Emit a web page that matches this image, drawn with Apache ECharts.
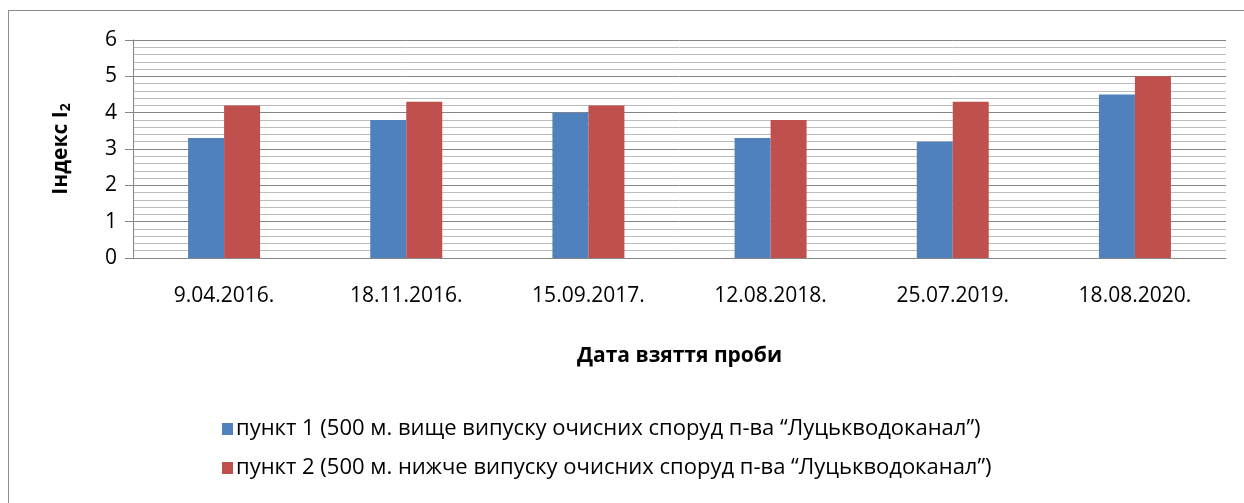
<!DOCTYPE html>
<html>
<head>
<meta charset="utf-8">
<script src="https://cdn.jsdelivr.net/npm/echarts@6/dist/echarts.min.js"></script>
<style>
  html, body { margin: 0; padding: 0; background: #fff; }
  #chart { width: 1244px; height: 503px; position: relative; }
  .frame { position: absolute; left: 8px; top: 10px; width: 1300px; height: 600px; border: 1px solid #8c8c8c; box-sizing: border-box; }
</style>
</head>
<body>
<div class="frame"></div>
<div id="chart"></div>
<script>
// дати відбору проб
const dates = ['9.04.2016.', '18.11.2016.', '15.09.2017.', '12.08.2018.', '25.07.2019.', '18.08.2020.']
const point1 = [3.3, 3.8, 4.0, 3.3, 3.2, 4.5]
const point2 = [4.2, 4.3, 4.2, 3.8, 4.3, 5.0]
const seriesNames = [
  'пункт 1 (500 м. вище випуску очисних споруд п-ва “Луцькводоканал”)',
  'пункт 2 (500 м. нижче випуску очисних споруд п-ва “Луцькводоканал”)'
]

const font = 'Open Sans'
const chart = echarts.init(document.getElementById('chart'))
chart.setOption({
  animation: false,
  textStyle: { fontFamily: font },
  grid: { left: 133, right: 18, top: 40, bottom: 245 },
  legend: {
    orient: 'vertical',
    left: 217,
    top: 413,
    itemGap: 17,
    itemWidth: 11,
    itemHeight: 12,
    icon: 'rect',
    textStyle: { fontFamily: font, fontSize: 22, color: '#000', padding: [0, 0, 0, -2] },
    data: seriesNames
  },
  xAxis: {
    type: 'category',
    data: dates,
    name: 'Дата взяття проби',
    nameLocation: 'middle',
    nameGap: 88,
    nameTextStyle: { fontFamily: font, fontSize: 21, fontWeight: 'bold', color: '#000' },
    axisLine: { lineStyle: { color: '#868686' } },
    axisTick: { show: false },
    axisLabel: { color: '#000', fontSize: 21, margin: 28 }
  },
  yAxis: {
    type: 'value',
    min: 0,
    max: 6,
    interval: 1,
    name: '{b|Індекс I}{s|2}',
    nameLocation: 'middle',
    nameRotate: 90,
    nameGap: 60,
    nameTextStyle: {
      rich: {
        b: { fontFamily: font, fontSize: 21, fontWeight: 'bold', color: '#000' },
        s: { fontFamily: font, fontSize: 14, fontWeight: 'bold', color: '#000', verticalAlign: 'bottom', padding: [10, 0, 0, 0] }
      }
    },
    axisLine: { show: true, lineStyle: { color: '#868686' } },
    axisTick: { show: true, length: 8, lineStyle: { color: '#868686' } },
    axisLabel: { color: '#000', fontSize: 21, margin: 16 },
    splitLine: { lineStyle: { color: '#868686' } },
    minorTick: { show: false, splitNumber: 5 },
    minorSplitLine: { show: true, lineStyle: { color: '#bdbdbd' } }
  },
  series: [
    {
      name: seriesNames[0],
      type: 'bar',
      data: point1,
      barWidth: 36,
      barGap: '0%',
      itemStyle: { color: '#4F81BD' }
    },
    {
      name: seriesNames[1],
      type: 'bar',
      data: point2,
      barWidth: 36,
      itemStyle: { color: '#C0504D' }
    }
  ]
})
</script>
</body>
</html>
